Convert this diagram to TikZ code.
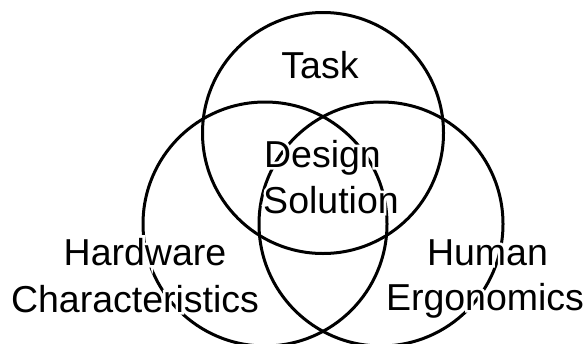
\documentclass[tikz,border=0pt]{standalone}
\usepackage{fontspec}
\setmainfont{Liberation Sans}
% heavily emboldened face, set in white, that masks the rings behind a label
\newfontfamily\halofont[FakeBold=14]{Liberation Sans}

\tikzset{
  ring/.style={draw=black, line width=3pt},
  vennlabel/.style={anchor=base, inner sep=0pt, font=\fontsize{37.5}{40}\selectfont},
  halo/.style={vennlabel, text=white, font=\fontsize{37.5}{40}\halofont},
}

\newcommand\halolabel[3]{%
  \node[halo] at #2 {#3};
  \node[vennlabel] (#1) at #2 {#3};
}

\begin{document}
\begin{tikzpicture}[x=1pt, y=-1pt]
  \useasboundingbox (0,0) rectangle (588,343);

  % the three overlapping sets
  \draw[ring] (323,133) circle[radius=120.5pt];
  \draw[ring] (265,224) circle[radius=122pt];
  \draw[ring] (381,224) circle[radius=122pt];

  % labels
  \halolabel{task}{(320,78)}{Task}
  \halolabel{design}{(322.5,167)}{Design}
  \halolabel{solution}{(331,213)}{Solution}
  \halolabel{hardware}{(145,265)}{Hardware}
  \halolabel{characteristics}{(135,312)}{Characteristics}
  \halolabel{human}{(487.5,265)}{Human}
  \halolabel{ergonomics}{(485,310)}{Ergonomics}
\end{tikzpicture}
\end{document}
